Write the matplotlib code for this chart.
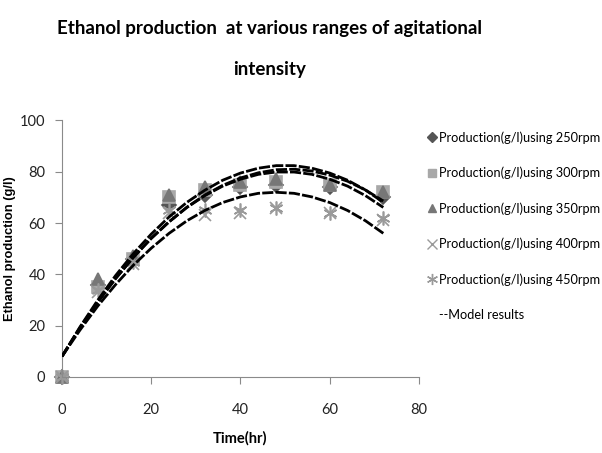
import matplotlib
matplotlib.use("Agg")
import matplotlib.pyplot as plt
from matplotlib.lines import Line2D

plt.rcParams["font.family"] = ["Lato", "DejaVu Sans"]

# measured production (g/l) at each sampling time
time_hr = [0, 8, 16, 24, 32, 40, 48, 60, 72]
prod_250 = [0, 36, 46, 67, 71, 74, 75, 74, 70]
prod_300 = [0, 35, 46, 70, 73, 75, 76, 75, 72]
prod_350 = [0, 38, 47, 71, 74, 76, 77, 75, 72]
prod_400 = [0, 33, 44, 64, 63, 64, 66, 64, 61]
prod_450 = [0, 34, 45, 65, 65, 65, 66, 64, 62]

# model curves every 4 h
model_t = [0, 4, 8, 12, 16, 20, 24, 28, 32, 36, 40, 44, 48, 52, 56, 60, 64, 68, 72]
model_a = [8, 19.4, 29.9, 39.5, 48.1, 55.7, 62.4, 68.1, 72.8, 76.7, 79.5, 81.4,
           82.4, 82.4, 81.4, 79.5, 76.7, 72.9, 68.1]
model_b = [8, 19.0, 29.1, 38.3, 46.6, 54.0, 60.5, 66.2, 70.9, 74.7, 77.6, 79.6,
           80.8, 81.0, 80.3, 78.7, 76.3, 72.9, 68.6]
model_c = [8, 19.1, 29.2, 38.4, 46.7, 54.1, 60.5, 66.1, 70.7, 74.4, 77.1, 79.0,
           79.9, 79.9, 79.0, 77.1, 74.4, 70.7, 66.1]
model_d = [8, 18.2, 27.6, 36.0, 43.6, 50.2, 56.0, 60.9, 64.9, 68.0, 70.2, 71.6,
           72.0, 71.6, 70.2, 68.0, 64.9, 60.9, 56.0]

labels = ["Production(g/l)using 250rpm", "Production(g/l)using 300rpm",
          "Production(g/l)using 350rpm", "Production(g/l)using 400rpm",
          "Production(g/l)using 450rpm"]

fig = plt.figure(figsize=(6.02, 4.53), dpi=100)
ax = fig.add_axes([0.103, 0.168, 0.593, 0.566])

series = [
    (prod_250, "D", "#555555", 7),
    (prod_300, "s", "#a8a8a8", 8),
    (prod_350, "^", "#777777", 8),
    (prod_400, "x", "#9a9a9a", 9),
    (prod_450, (6, 2, 0), "#9a9a9a", 10),
]
handles = []
for vals, mk, col, ms in series:
    ax.plot(time_hr, vals, linestyle="none", marker=mk, color=col,
            markersize=ms, markeredgewidth=1.2, zorder=2, clip_on=False)
    handles.append(Line2D([], [], linestyle="none", marker=mk, color=col,
                          markersize=ms * 0.8, markeredgewidth=1.0))

for m in [model_a, model_b, model_c, model_d]:
    ax.plot(model_t, m, color="black", linewidth=2.0,
            linestyle=(0, (4, 0.8)), zorder=3)

ax.set_xlim(0, 80)
ax.set_ylim(0, 100)
ax.set_xticks([0, 20, 40, 60, 80])
ax.set_yticks([0, 20, 40, 60, 80, 100])
for s in ["top", "right"]:
    ax.spines[s].set_visible(False)
for s in ["left", "bottom"]:
    ax.spines[s].set_color("#8a8a8a")
ax.tick_params(axis="x", direction="out", length=5, color="#8a8a8a",
               labelsize=10.5, pad=14, labelcolor="#222222")
ax.tick_params(axis="y", direction="out", length=5, color="#8a8a8a",
               labelsize=10.5, pad=7, labelcolor="#222222")
ax.set_xlabel("Time(hr)", fontsize=10.5, fontweight="bold", labelpad=10)
ax.set_ylabel("Ethanol production (g/l)", fontsize=9.3, fontweight="bold",
              family="Liberation Sans")
ax.yaxis.set_label_coords(-0.128, 0.5)

fig.suptitle("Ethanol production  at various ranges of agitational\nintensity",
             x=0.447, y=0.955, fontsize=13.5, fontweight="bold", linespacing=2.7)

handles.append(Line2D([], [], linestyle="none"))
fig.legend(handles, labels + ["--Model results"], loc="upper left",
           bbox_to_anchor=(0.702, 0.722), frameon=False, fontsize=9.2,
           handlelength=0.7, handletextpad=0.2, labelspacing=1.8,
           borderaxespad=0)

fig.savefig("out.png", dpi=100)
